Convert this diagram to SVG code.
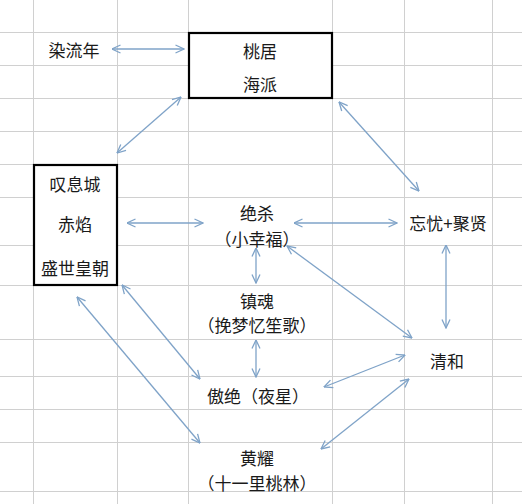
<svg xmlns="http://www.w3.org/2000/svg" width="522" height="504" viewBox="0 0 522 504">
<style>
.grid line{stroke:#d0d0d0;stroke-width:1}
.box{fill:none;stroke:#000;stroke-width:2.2}
text{font-family:"Noto Sans CJK SC","Noto Sans CJK JP",sans-serif;font-size:17px;fill:#1a1a1a;text-anchor:middle;dominant-baseline:central}
.conn line{stroke:#7fa3c8;stroke-width:1.3;marker-start:url(#ah);marker-end:url(#ah)}
</style>
<defs>
<marker id="ah" viewBox="0 0 10 10" refX="9.5" refY="5" markerWidth="10" markerHeight="10" markerUnits="userSpaceOnUse" orient="auto-start-reverse">
<path d="M1,1 L9.5,5 L1,9" fill="none" stroke="#7fa3c8" stroke-width="1.3"/>
</marker>
</defs>
<rect width="522" height="504" fill="#fff"/>
<g class="grid">
<line x1="33.5" y1="0" x2="33.5" y2="504"/>
<line x1="117.5" y1="0" x2="117.5" y2="504"/>
<line x1="188.5" y1="0" x2="188.5" y2="504"/>
<line x1="332.5" y1="0" x2="332.5" y2="504"/>
<line x1="404.5" y1="0" x2="404.5" y2="504"/>
<line x1="492.5" y1="0" x2="492.5" y2="504"/>
<line x1="0" y1="32.5" x2="522" y2="32.5"/>
<line x1="0" y1="65.5" x2="522" y2="65.5"/>
<line x1="0" y1="98.5" x2="522" y2="98.5"/>
<line x1="0" y1="131.5" x2="522" y2="131.5"/>
<line x1="0" y1="164.5" x2="522" y2="164.5"/>
<line x1="0" y1="197.5" x2="522" y2="197.5"/>
<line x1="0" y1="245.5" x2="522" y2="245.5"/>
<line x1="0" y1="285.5" x2="522" y2="285.5"/>
<line x1="0" y1="339.5" x2="522" y2="339.5"/>
<line x1="0" y1="376.5" x2="522" y2="376.5"/>
<line x1="0" y1="409.5" x2="522" y2="409.5"/>
<line x1="0" y1="442.5" x2="522" y2="442.5"/>
<line x1="0" y1="491.5" x2="522" y2="491.5"/>
</g>
<g id="n-ranliunian"><text x="74" y="49">染流年</text></g>
<g id="n-taoju">
<rect class="box" x="189" y="33" width="143" height="65" fill="#fff" style="fill:#fff"/>
<text x="260" y="50">桃居</text>
<text x="260" y="83">海派</text>
</g>
<g id="n-tanxi">
<rect class="box" x="34" y="165" width="83" height="120" style="fill:#fff"/>
<text x="75" y="183">叹息城</text>
<text x="75" y="223">赤焰</text>
<text x="75" y="267">盛世皇朝</text>
</g>
<g id="n-juesha">
<text x="257" y="212">绝杀</text>
<text x="257" y="238">（小幸福）</text>
</g>
<g id="n-wangyou"><text x="448" y="222">忘忧+聚贤</text></g>
<g id="n-zhenhun">
<text x="257" y="300">镇魂</text>
<text x="257" y="324">（挽梦忆笙歌）</text>
</g>
<g id="n-aojue"><text x="258" y="395">傲绝（夜星）</text></g>
<g id="n-qinghe"><text x="447" y="360">清和</text></g>
<g id="n-huangyao">
<text x="257" y="457">黄耀</text>
<text x="257" y="482">（十一里桃林）</text>
</g>
<g class="conn">
<line x1="112" y1="49" x2="184" y2="49"/>
<line x1="181" y1="97" x2="117" y2="153"/>
<line x1="339" y1="102" x2="419" y2="191"/>
<line x1="127" y1="223" x2="203" y2="223"/>
<line x1="294" y1="223" x2="397" y2="223"/>
<line x1="446" y1="245" x2="446" y2="328"/>
<line x1="287" y1="246" x2="412" y2="338"/>
<line x1="256" y1="248" x2="256" y2="283"/>
<line x1="256" y1="340" x2="256" y2="377"/>
<line x1="122" y1="285" x2="200" y2="379"/>
<line x1="77" y1="297" x2="200" y2="443"/>
<line x1="324" y1="387" x2="405" y2="355"/>
<line x1="321" y1="449" x2="409" y2="379"/>
</g>
</svg>
